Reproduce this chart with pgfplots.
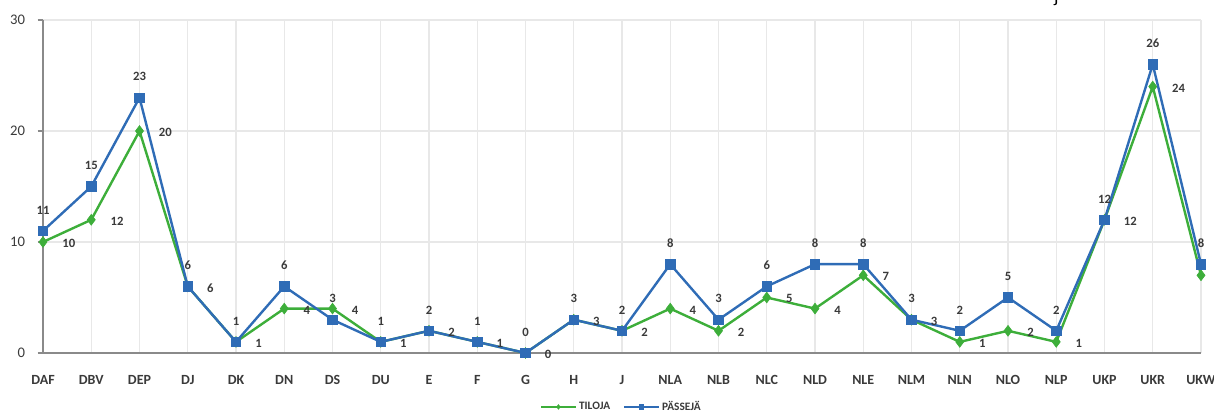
\documentclass[border=0pt]{standalone}
\usepackage{fontspec}
\setmainfont{Carlito}
\usepackage{pgfplots}
\pgfplotsset{compat=1.18}

\definecolor{tgreen}{HTML}{3DAE3A}
\definecolor{tblue}{HTML}{2F6CB6}
\definecolor{axgray}{HTML}{8A8A8A}
\definecolor{gridgray}{HTML}{E8E8E8}
\definecolor{txt}{HTML}{3A3A3A}

\begin{document}
\begin{tikzpicture}
\useasboundingbox (0,0) rectangle (910.5pt,312pt);
\begin{axis}[
    at={(32.25pt,47.25pt)}, anchor=south west,
    scale only axis, width=868.5pt, height=249.75pt,
    xmin=0, xmax=24, ymin=0, ymax=30,
    /pgf/number format/assume math mode=true,
    axis lines=left, axis line style={axgray, line width=1.6pt, -},
    clip=false,
    xtick={0,...,24},
    xticklabels={DAF,DBV,DEP,DJ,DK,DN,DS,DU,E,F,G,H,J,NLA,NLB,NLC,NLD,NLE,NLM,NLN,NLO,NLP,UKP,UKR,UKW},
    ytick={0,10,20,30},
    xmajorgrids, ymajorgrids,
    major grid style={gridgray, line width=0.8pt},
    xtick style={/pgfplots/major tick length=0pt},
    ytick style={axgray, line width=1pt},
    tick align=outside, major tick length=4pt,
    xticklabel style={font=\fontsize{10.5}{12}\selectfont\bfseries, text=txt, yshift=-9pt},
    yticklabel style={font=\fontsize{11}{12}\selectfont, text=txt, xshift=-6pt},
    nodes near coords={\pgfmathprintnumber{\pgfplotspointmeta}},
    every node near coord/.append style={font=\fontsize{9.5}{10}\selectfont\bfseries, text=txt},
    legend style={at={(0.5,-0.162)}, anchor=center, draw=none, fill=none,
        font=\fontsize{8.5}{9}\selectfont\bfseries, text=txt,
        legend columns=2, /tikz/every even column/.append style={column sep=8pt}},
    legend image code/.code={\draw[mark repeat=2,mark phase=2,#1,mark size=1.7pt,line width=1.3pt] plot coordinates {(0cm,0cm)(0.45cm,0cm)(0.9cm,0cm)};},
  ]
  \addplot[tgreen, line width=1.8pt, mark=diamond*, mark size=4pt,
      mark options={solid, fill=tgreen, line width=0.5pt},
      nodes near coords, every node near coord/.append style={anchor=west, xshift=11pt, yshift=-1pt}]
    coordinates {(0,10)(1,12)(2,20)(3,6)(4,1)(5,4)(6,4)(7,1)(8,2)(9,1)(10,0)(11,3)(12,2)
                 (13,4)(14,2)(15,5)(16,4)(17,7)(18,3)(19,1)(20,2)(21,1)(22,12)(23,24)(24,7)};
  \addlegendentry{TILOJA}
  \addplot[tblue, line width=1.8pt, mark=square*, mark size=3.6pt,
      mark options={solid, fill=tblue, line width=0.5pt},
      nodes near coords, every node near coord/.append style={anchor=south, yshift=9pt}]
    coordinates {(0,11)(1,15)(2,23)(3,6)(4,1)(5,6)(6,3)(7,1)(8,2)(9,1)(10,0)(11,3)(12,2)
                 (13,8)(14,3)(15,6)(16,8)(17,8)(18,3)(19,2)(20,5)(21,2)(22,12)(23,26)(24,8)};
  \addlegendentry{PÄSSEJÄ}
  \node[font=\fontsize{14}{14}\selectfont, text=black, anchor=south] at (rel axis cs:0.875,1.03) {j};
\end{axis}
\end{tikzpicture}
\end{document}
